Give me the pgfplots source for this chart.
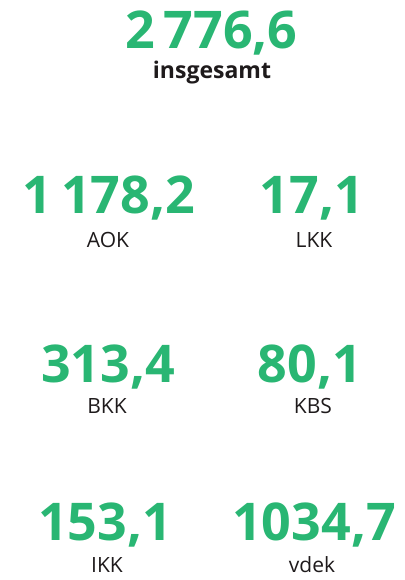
\documentclass[border=0pt]{standalone}
\usepackage{fontspec}
\setmainfont{Open Sans}
\usepackage{pgfplots}
\pgfplotsset{compat=1.18}
\definecolor{kgreen}{RGB}{41,182,115}
\definecolor{ktext}{RGB}{30,26,27}
\begin{document}
\begin{tikzpicture}
\begin{axis}[scale only axis, width=404pt, height=580pt,
  xmin=0, xmax=404, ymin=0, ymax=580, y dir=reverse,
  hide axis, clip=false,
  /pgf/number format/assume math mode=true,
  /pgf/number format/use comma,
  /pgf/number format/fixed,
  /pgf/number format/fixed zerofill,
  /pgf/number format/precision=1,
  /pgf/number format/1000 sep={\,}]
\draw[draw=none] (rel axis cs:0,0) rectangle (rel axis cs:1,1);
% values with thousands separator
\addplot[only marks, mark=none, nodes near coords, point meta=explicit,
  every node near coord/.append style={anchor=base, inner sep=0pt, font=\fontsize{52}{52}\selectfont\bfseries, text=kgreen}]
  table[meta=v] {
x y v
211.5 49 2776.6
109 213 1178.2
312 213 17.1
108 382 313.4
310 382 80.1
105 540 153.1
};
% vdek value without separator
\addplot[only marks, mark=none, nodes near coords, point meta=explicit,
  /pgf/number format/1000 sep={},
  every node near coord/.append style={anchor=base, inner sep=0pt, font=\fontsize{52}{52}\selectfont\bfseries, text=kgreen}]
  table[meta=v] {
x y v
314 540 1034.7
};
% labels
\addplot[only marks, mark=none, nodes near coords, point meta=explicit symbolic,
  every node near coord/.append style={anchor=base, inner sep=0pt, font=\fontsize{23}{23}\selectfont\bfseries, text=ktext}]
  table[meta=lab] {
x y lab
212 79 insgesamt
};
\addplot[only marks, mark=none, nodes near coords, point meta=explicit symbolic,
  every node near coord/.append style={anchor=base, inner sep=0pt, font=\fontsize{21}{21}\selectfont, text=ktext}]
  table[meta=lab] {
x y lab
108 247 AOK
314 247 LKK
107 413 BKK
313 413 KBS
107 572 IKK
312 572 vdek
};
\end{axis}
\end{tikzpicture}
\end{document}
